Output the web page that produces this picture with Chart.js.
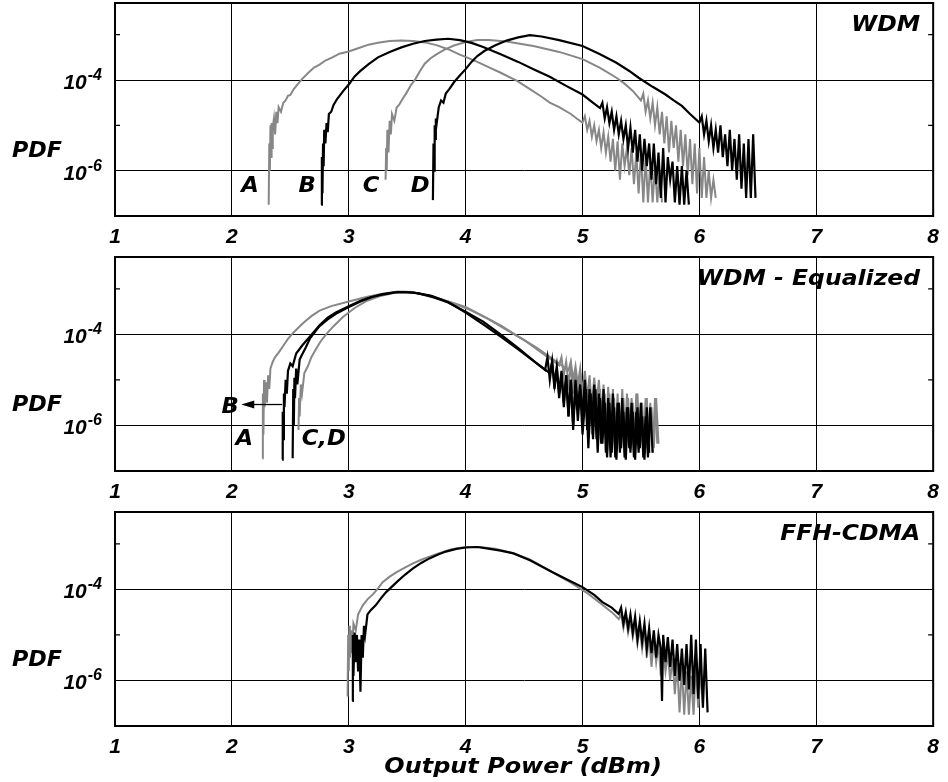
<!DOCTYPE html>
<html>
<head>
<meta charset="utf-8">
<script src="https://cdn.jsdelivr.net/npm/chart.js@4.4.1/dist/chart.umd.min.js"></script>
<style>
  html, body { margin: 0; padding: 0; background: #fff; }
  #wrap { position: relative; width: 948px; height: 782px; overflow: hidden; }
  #wrap canvas { position: absolute; left: 0; }
</style>
</head>
<body>
<div id="wrap">
  <canvas id="wdm" width="948" height="250" style="top:0px"></canvas>
  <canvas id="wdmEq" width="948" height="255" style="top:253px"></canvas>
  <canvas id="ffh" width="948" height="274" style="top:508px"></canvas>
</div>
<script>
// axis ticks
const xTickValues = [1, 2, 3, 4, 5, 6, 7, 8];
const yLabelled = [-4, -6];     // decades with label + grid line
const yMinor = [-3, -5];        // decades with short inner tick only

// curves: [output power (dBm), log10(PDF)]
// WDM
const wdmA = [[2.315,-6.75],[2.32,-5.4],[2.325,-6.0],[2.33,-5.0],[2.335,-5.7],[2.34,-4.95],[2.345,-5.5],[2.35,-5.05],[2.36,-4.85],[2.37,-5.2],[2.38,-4.7],[2.39,-4.95],[2.40,-4.6],[2.42,-4.7],[2.44,-4.5],[2.46,-4.45],[2.48,-4.35],[2.50,-4.33],[2.53,-4.2],[2.56,-4.1],[2.60,-3.98],[2.65,-3.85],[2.70,-3.73],[2.75,-3.66],[2.80,-3.57],[2.86,-3.5],[2.92,-3.42],[3.00,-3.37],[3.08,-3.3],[3.17,-3.22],[3.25,-3.18],[3.35,-3.14],[3.45,-3.13],[3.55,-3.14],[3.65,-3.17],[3.75,-3.23],[3.85,-3.32],[3.95,-3.44],[4.02,-3.51],[4.1,-3.6],[4.2,-3.72],[4.3,-3.84],[4.44,-4.02],[4.55,-4.2],[4.65,-4.37],[4.72,-4.5],[4.8,-4.6],[4.9,-4.75],[4.95,-4.85],[5.0,-4.94],
  [5.02,-4.8],[5.04,-5.1],[5.06,-4.9],[5.08,-5.25],[5.10,-5.0],[5.12,-5.35],[5.14,-5.1],[5.16,-5.5],[5.18,-5.15],[5.20,-5.6],[5.22,-5.25],[5.24,-5.8],[5.26,-5.3],[5.28,-6.0],[5.30,-5.35],[5.32,-6.2],[5.34,-5.4],[5.36,-5.9],[5.38,-5.5],[5.40,-6.1],[5.42,-5.5],[5.44,-6.3],[5.46,-5.6],[5.48,-6.5],[5.50,-5.6],[5.52,-6.7],[5.54,-5.7],[5.56,-6.7],[5.58,-5.8],[5.60,-6.7],[5.62,-5.9],[5.64,-6.7],[5.66,-6.0],[5.68,-6.7]];
const wdmB = [[2.765,-6.75],[2.77,-5.7],[2.775,-6.5],[2.78,-5.4],[2.785,-5.9],[2.79,-5.1],[2.80,-5.4],[2.81,-4.95],[2.82,-5.15],[2.83,-4.75],[2.85,-4.7],[2.87,-4.55],[2.90,-4.42],[2.95,-4.25],[3.00,-4.1],[3.05,-3.92],[3.10,-3.8],[3.17,-3.65],[3.25,-3.5],[3.35,-3.38],[3.45,-3.28],[3.55,-3.2],[3.65,-3.14],[3.75,-3.11],[3.85,-3.09],[3.95,-3.12],[4.05,-3.18],[4.15,-3.27],[4.30,-3.43],[4.45,-3.6],[4.58,-3.76],[4.72,-3.93],[4.86,-4.13],[5.0,-4.32],[5.08,-4.48],[5.15,-4.62],
  [5.17,-4.5],[5.19,-4.85],[5.21,-4.6],[5.23,-4.95],[5.25,-4.7],[5.27,-5.1],[5.29,-4.8],[5.31,-5.2],[5.33,-4.9],[5.35,-5.3],[5.37,-5.0],[5.39,-5.5],[5.41,-5.05],[5.43,-5.6],[5.45,-5.1],[5.47,-5.8],[5.49,-5.2],[5.51,-6.0],[5.53,-5.3],[5.55,-5.9],[5.57,-5.4],[5.59,-6.2],[5.61,-5.4],[5.63,-6.3],[5.65,-5.6],[5.67,-6.6],[5.69,-5.5],[5.71,-6.7],[5.73,-5.7],[5.75,-6.2],[5.77,-5.8],[5.79,-6.7],[5.81,-5.9],[5.83,-6.75],[5.85,-5.9],[5.87,-6.75],[5.89,-6.0],[5.91,-6.75]];
const wdmC = [[3.315,-6.2],[3.32,-5.5],[3.325,-6.0],[3.33,-5.1],[3.34,-5.6],[3.35,-4.9],[3.36,-5.2],[3.37,-4.75],[3.39,-4.9],[3.41,-4.6],[3.43,-4.55],[3.46,-4.42],[3.49,-4.3],[3.53,-4.12],[3.57,-3.98],[3.61,-3.8],[3.65,-3.64],[3.70,-3.52],[3.76,-3.42],[3.82,-3.33],[3.90,-3.24],[4.0,-3.16],[4.1,-3.12],[4.2,-3.12],[4.35,-3.15],[4.58,-3.25],[4.8,-3.38],[5.0,-3.54],[5.15,-3.73],[5.29,-3.95],[5.36,-4.08],[5.43,-4.24],[5.50,-4.45],
  [5.52,-4.3],[5.54,-4.7],[5.56,-4.45],[5.58,-4.85],[5.60,-4.5],[5.62,-5.0],[5.64,-4.6],[5.66,-5.2],[5.68,-4.7],[5.70,-5.4],[5.72,-4.8],[5.74,-5.6],[5.76,-4.9],[5.78,-5.5],[5.80,-5.0],[5.82,-5.8],[5.84,-5.1],[5.86,-5.9],[5.88,-5.2],[5.90,-6.1],[5.92,-5.3],[5.94,-6.3],[5.96,-5.4],[5.98,-6.5],[6.00,-5.5],[6.02,-6.6],[6.04,-5.7],[6.06,-6.6],[6.08,-6.0],[6.10,-6.6],[6.12,-6.2],[6.14,-6.6]];
const wdmD = [[3.72,-6.65],[3.725,-5.4],[3.73,-6.0],[3.735,-5.0],[3.74,-5.3],[3.745,-4.85],[3.75,-5.0],[3.77,-4.6],[3.79,-4.45],[3.81,-4.5],[3.83,-4.3],[3.86,-4.2],[3.90,-4.05],[3.95,-3.9],[4.0,-3.76],[4.05,-3.6],[4.1,-3.47],[4.16,-3.36],[4.25,-3.24],[4.35,-3.13],[4.45,-3.06],[4.55,-3.01],[4.65,-3.04],[4.8,-3.12],[5.0,-3.25],[5.15,-3.43],[5.29,-3.62],[5.4,-3.8],[5.48,-3.95],[5.6,-4.15],[5.71,-4.32],[5.78,-4.45],[5.85,-4.57],[5.92,-4.75],[6.0,-4.94],
  [6.02,-4.8],[6.04,-5.2],[6.06,-4.9],[6.08,-5.35],[6.10,-5.0],[6.12,-5.5],[6.14,-5.1],[6.16,-5.6],[6.18,-5.0],[6.20,-5.7],[6.22,-5.2],[6.24,-5.9],[6.26,-5.1],[6.28,-6.0],[6.30,-5.3],[6.32,-6.2],[6.34,-5.2],[6.36,-6.4],[6.38,-5.4],[6.40,-6.6],[6.42,-5.3],[6.44,-6.6],[6.46,-5.2],[6.48,-6.6]];

// WDM - Equalized
const eqA = [[2.26,-6.72],[2.265,-5.3],[2.27,-6.2],[2.275,-5.0],[2.28,-5.6],[2.29,-5.05],[2.30,-5.5],[2.31,-4.9],[2.32,-5.2],[2.33,-4.75],[2.35,-4.6],[2.37,-4.5],[2.40,-4.4],[2.44,-4.25],[2.48,-4.1],[2.52,-3.98],[2.57,-3.85],[2.62,-3.73],[2.68,-3.6],[2.75,-3.48],[2.85,-3.38],[3.0,-3.28],[3.15,-3.18],[3.3,-3.1],[3.42,-3.06],[3.55,-3.07],[3.72,-3.19],[3.85,-3.28],[4.0,-3.4],[4.15,-3.6],[4.31,-3.82],[4.45,-4.05],[4.6,-4.28],[4.75,-4.55],[4.88,-4.79],
  [4.90,-4.6],[4.92,-5.0],[4.94,-4.7],[4.96,-5.1],[4.98,-4.75],[5.00,-5.3],[5.02,-4.8],[5.04,-5.4],[5.06,-4.9],[5.08,-5.6],[5.10,-4.95],[5.12,-5.5],[5.14,-5.0],[5.16,-5.8],[5.18,-5.1],[5.20,-6.1],[5.22,-5.15],[5.24,-6.4],[5.26,-5.2],[5.28,-6.6],[5.30,-5.3],[5.32,-6.5],[5.34,-5.2],[5.36,-6.6],[5.38,-5.3],[5.40,-6.2],[5.42,-5.4],[5.44,-6.6],[5.46,-5.3],[5.48,-6.4],[5.50,-5.5],[5.52,-6.6],[5.54,-5.4],[5.56,-6.5],[5.58,-5.5],[5.60,-6.6],[5.62,-5.4],[5.64,-6.4]];
const eqB = [[2.43,-6.75],[2.435,-5.7],[2.44,-6.3],[2.445,-5.3],[2.45,-5.6],[2.46,-5.0],[2.47,-5.3],[2.48,-4.8],[2.50,-4.64],[2.52,-4.7],[2.55,-4.42],[2.60,-4.25],[2.64,-4.13],[2.70,-3.95],[2.75,-3.8],[2.82,-3.63],[2.89,-3.52],[3.0,-3.38],[3.1,-3.26],[3.18,-3.19],[3.28,-3.12],[3.38,-3.08],[3.48,-3.07],[3.6,-3.1],[3.72,-3.18],[3.85,-3.3],[4.0,-3.5],[4.15,-3.72],[4.31,-4.02],[4.45,-4.3],[4.6,-4.62],[4.68,-4.78],
  [4.70,-4.5],[4.72,-5.0],[4.74,-4.6],[4.76,-5.2],[4.78,-4.75],[4.80,-5.4],[4.82,-4.85],[4.84,-5.6],[4.86,-4.9],[4.88,-5.8],[4.90,-5.0],[4.92,-6.0],[4.94,-5.0],[4.96,-5.6],[4.98,-5.1],[5.00,-5.8],[5.02,-5.0],[5.04,-6.1],[5.06,-5.2],[5.08,-6.0],[5.10,-5.1],[5.12,-6.3],[5.14,-5.3],[5.16,-6.4],[5.18,-5.2],[5.20,-6.6],[5.22,-5.4],[5.24,-6.7],[5.26,-5.3],[5.28,-6.7],[5.30,-5.5],[5.32,-6.6],[5.34,-5.4],[5.36,-6.7],[5.38,-5.6],[5.40,-6.5],[5.42,-5.5],[5.44,-6.7],[5.46,-5.7],[5.48,-6.6],[5.50,-5.5],[5.52,-6.7],[5.54,-5.8],[5.56,-6.7],[5.58,-5.6],[5.60,-6.6]];
const eqC = [[2.57,-6.1],[2.575,-5.4],[2.58,-5.8],[2.59,-5.1],[2.60,-5.3],[2.62,-4.85],[2.65,-4.7],[2.68,-4.5],[2.72,-4.32],[2.76,-4.15],[2.81,-3.99],[2.87,-3.82],[2.95,-3.62],[3.05,-3.42],[3.15,-3.27],[3.28,-3.15],[3.4,-3.08],[3.55,-3.08],[3.72,-3.17],[3.9,-3.32],[4.05,-3.48],[4.2,-3.67],[4.35,-3.9],[4.5,-4.12],[4.65,-4.4],[4.8,-4.68],
  [4.82,-4.5],[4.84,-4.9],[4.86,-4.6],[4.88,-5.1],[4.90,-4.7],[4.92,-5.3],[4.94,-4.8],[4.96,-5.5],[4.98,-4.85],[5.00,-5.6],[5.02,-4.9],[5.04,-5.9],[5.06,-5.0],[5.08,-6.2],[5.10,-5.1],[5.13,-6.5],[5.15,-5.2],[5.17,-6.3],[5.19,-5.3],[5.21,-6.6],[5.23,-5.3],[5.25,-6.4],[5.27,-5.4],[5.29,-6.6],[5.31,-5.5],[5.33,-6.3],[5.35,-5.4],[5.37,-6.6],[5.39,-5.4],[5.41,-6.5],[5.43,-5.5],[5.45,-6.6],[5.47,-5.3],[5.49,-6.4],[5.51,-5.5],[5.53,-6.6],[5.55,-5.4],[5.57,-6.6],[5.59,-5.6],[5.61,-6.5],[5.63,-5.4],[5.65,-6.4]];
const eqD = [[2.52,-6.72],[2.525,-5.2],[2.53,-6.0],[2.535,-4.95],[2.54,-5.4],[2.55,-4.75],[2.56,-5.1],[2.58,-4.55],[2.60,-4.45],[2.63,-4.3],[2.67,-4.08],[2.71,-3.95],[2.75,-3.82],[2.82,-3.67],[2.89,-3.55],[3.0,-3.4],[3.1,-3.28],[3.2,-3.18],[3.3,-3.12],[3.42,-3.07],[3.55,-3.08],[3.7,-3.15],[3.85,-3.29],[4.0,-3.52],[4.15,-3.78],[4.3,-4.05],[4.45,-4.33],[4.6,-4.62],[4.72,-4.85],
  [4.74,-4.6],[4.76,-5.1],[4.78,-4.7],[4.80,-5.3],[4.82,-4.8],[4.84,-5.5],[4.86,-4.9],[4.88,-5.8],[4.90,-5.0],[4.92,-6.1],[4.94,-5.1],[4.96,-5.9],[4.98,-5.2],[5.00,-6.2],[5.03,-5.2],[5.05,-6.5],[5.07,-5.3],[5.09,-6.3],[5.11,-5.2],[5.13,-6.6],[5.15,-5.4],[5.17,-6.4],[5.19,-5.5],[5.21,-6.7],[5.23,-5.5],[5.25,-6.6],[5.27,-5.6],[5.29,-6.75],[5.31,-5.5],[5.33,-6.5],[5.35,-5.7],[5.37,-6.75],[5.39,-5.6],[5.41,-6.6],[5.43,-5.7],[5.45,-6.75],[5.47,-5.6],[5.49,-6.5],[5.51,-5.8],[5.53,-6.75],[5.55,-5.6],[5.57,-6.6]];

// FFH-CDMA
const ffhGray = [[2.99,-6.35],[2.995,-5.0],[3.0,-5.8],[3.005,-4.8],[3.01,-5.5],[3.02,-4.9],[3.03,-5.4],[3.04,-4.75],[3.06,-4.9],[3.08,-4.55],[3.10,-4.45],[3.12,-4.35],[3.16,-4.22],[3.21,-4.1],[3.25,-3.98],[3.29,-3.84],[3.35,-3.72],[3.41,-3.62],[3.48,-3.52],[3.55,-3.43],[3.62,-3.35],[3.69,-3.28],[3.78,-3.2],[3.88,-3.12],[4.0,-3.07],[4.12,-3.07],[4.25,-3.11],[4.4,-3.2],[4.55,-3.34],[4.74,-3.62],[4.9,-3.85],[5.05,-4.1],[5.15,-4.3],[5.25,-4.5],[5.31,-4.65],
  [5.33,-4.55],[5.35,-4.85],[5.37,-4.6],[5.39,-4.95],[5.41,-4.7],[5.43,-5.05],[5.45,-4.75],[5.47,-5.2],[5.49,-4.85],[5.51,-5.3],[5.53,-4.9],[5.55,-5.5],[5.57,-5.0],[5.59,-5.7],[5.61,-5.1],[5.63,-5.6],[5.65,-5.2],[5.67,-5.9],[5.69,-5.3],[5.71,-5.8],[5.73,-5.4],[5.75,-6.0],[5.77,-5.5],[5.79,-6.3],[5.81,-5.6],[5.83,-6.7],[5.85,-5.7],[5.87,-6.75],[5.89,-5.8],[5.91,-6.75],[5.93,-5.9],[5.95,-6.75],[5.97,-5.7],[5.99,-6.6],[6.01,-5.8],[6.03,-6.5]];
const ffhBlack = [[3.03,-6.45],[3.035,-5.0],[3.04,-5.9],[3.05,-4.95],[3.06,-5.6],[3.07,-5.0],[3.08,-5.8],[3.09,-5.1],[3.10,-6.25],[3.11,-5.0],[3.12,-5.5],[3.13,-4.8],[3.14,-5.0],[3.16,-4.55],[3.19,-4.45],[3.23,-4.35],[3.28,-4.18],[3.32,-4.06],[3.41,-3.84],[3.48,-3.68],[3.55,-3.54],[3.62,-3.42],[3.69,-3.32],[3.76,-3.24],[3.83,-3.17],[3.92,-3.11],[4.0,-3.08],[4.1,-3.07],[4.18,-3.1],[4.3,-3.15],[4.41,-3.21],[4.55,-3.36],[4.74,-3.62],[4.88,-3.8],[5.0,-3.95],[5.1,-4.12],[5.17,-4.28],[5.25,-4.4],[5.31,-4.54],
  [5.33,-4.4],[5.35,-4.75],[5.37,-4.5],[5.39,-4.85],[5.41,-4.55],[5.43,-4.95],[5.45,-4.6],[5.47,-5.1],[5.49,-4.7],[5.51,-5.15],[5.53,-4.75],[5.55,-5.3],[5.57,-4.85],[5.59,-5.4],[5.61,-4.9],[5.63,-5.5],[5.65,-5.0],[5.67,-5.3],[5.68,-6.45],[5.69,-5.0],[5.71,-5.6],[5.73,-5.05],[5.75,-5.7],[5.77,-5.1],[5.79,-5.9],[5.81,-5.2],[5.83,-6.0],[5.85,-5.3],[5.87,-6.1],[5.89,-5.2],[5.91,-6.2],[5.93,-5.0],[5.95,-6.3],[5.97,-5.1],[5.99,-6.4],[6.01,-5.2],[6.03,-6.6],[6.05,-5.3],[6.07,-6.7]];

const GRAY = '#878787';
const BLACK = '#000000';
const TEXT_FONT = '"DejaVu Sans", sans-serif';
const NUM_FONT = '"Liberation Sans", Arial, sans-serif';

const toPts = arr => arr.map(([x, e]) => ({ x: x, y: Math.pow(10, e) }));

function stretchText(ctx, text, x, y, align, sx) {
    ctx.save();
    ctx.translate(x, y);
    ctx.scale(sx, 1);
    ctx.textAlign = align;
    ctx.fillText(text, 0, 0);
    ctx.restore();
}

// frame, minor ticks, decade labels and the in-plot annotations
const panelDeco = {
    id: 'panelDeco',
    afterDraw(chart, args, opts) {
        const { ctx, chartArea: a } = chart;
        const xs = chart.scales.x, ys = chart.scales.y;
        ctx.save();
        ctx.strokeStyle = '#000';
        ctx.lineWidth = 2;
        ctx.strokeRect(a.left, a.top, a.right - a.left, a.bottom - a.top);

        ctx.lineWidth = 1.2;
        ctx.beginPath();
        yMinor.forEach(e => {
            const py = ys.getPixelForValue(Math.pow(10, e));
            ctx.moveTo(a.left, py); ctx.lineTo(a.left + 5, py);
            ctx.moveTo(a.right, py); ctx.lineTo(a.right - 5, py);
        });
        ctx.stroke();

        ctx.fillStyle = '#000';
        ctx.textBaseline = 'alphabetic';
        // 10^-4, 10^-6
        yLabelled.forEach(e => {
            const py = ys.getPixelForValue(Math.pow(10, e));
            ctx.textAlign = 'right';
            ctx.font = 'italic bold 16px ' + NUM_FONT;
            const exp = String(e);
            const we = ctx.measureText(exp).width;
            ctx.fillText(exp, a.left - 13, py);
            ctx.font = 'italic bold 21px ' + NUM_FONT;
            ctx.fillText('10', a.left - 14 - we, py + 9);
        });

        ctx.font = 'italic bold 21px ' + TEXT_FONT;
        stretchText(ctx, 'PDF', a.left - 103, a.top + 154, 'left', 1.06);
        stretchText(ctx, opts.title, a.right - 13, a.top + 28, 'right', 1.12);
        (opts.letters || []).forEach(([t, lx, le]) => {
            stretchText(ctx, t, xs.getPixelForValue(lx), ys.getPixelForValue(Math.pow(10, le)), 'center', 1.08);
        });

        if (opts.arrow) {
            const [x0, x1, e] = opts.arrow;
            const py = ys.getPixelForValue(Math.pow(10, e));
            const p0 = xs.getPixelForValue(x0), p1 = xs.getPixelForValue(x1);
            ctx.lineWidth = 1.3;
            ctx.beginPath(); ctx.moveTo(p0, py); ctx.lineTo(p1 + 10, py); ctx.stroke();
            ctx.beginPath(); ctx.moveTo(p1, py); ctx.lineTo(p1 + 13, py - 4); ctx.lineTo(p1 + 13, py + 4); ctx.closePath(); ctx.fill();
        }

        if (opts.xTitle) {
            stretchText(ctx, opts.xTitle, (a.left + a.right) / 2 - 1, a.bottom + 47, 'center', 1.14);
        }
        ctx.restore();
    }
};

function makePanel(id, curves, deco, padTop, plotH) {
    const canvas = document.getElementById(id);
    const H = canvas.height;
    return new Chart(canvas, {
        type: 'line',
        data: {
            datasets: curves.map(([pts, color]) => ({
                data: toPts(pts),
                borderColor: color,
                borderWidth: color === BLACK ? 2.2 : 2,
                borderJoinStyle: 'miter',
                pointRadius: 0,
                tension: 0,
                fill: false,
                order: color === BLACK ? 0 : 1
            }))
        },
        options: {
            responsive: false,
            animation: false,
            events: [],
            layout: { padding: { top: padTop, right: 10, left: 0, bottom: 0 } },
            plugins: { legend: { display: false }, tooltip: { enabled: false }, panelDeco: deco },
            scales: {
                x: {
                    type: 'linear', min: 1, max: 8,
                    afterBuildTicks: s => { s.ticks = xTickValues.map(v => ({ value: v })); },
                    afterFit: s => { s.height = H - padTop - plotH; },
                    ticks: { padding: 9, color: '#000', maxRotation: 0, autoSkip: false,
                             font: { family: NUM_FONT, size: 21, style: 'italic', weight: 'bold' } },
                    grid: { color: '#000', lineWidth: 1, drawTicks: false },
                    border: { color: '#000', width: 2 }
                },
                y: {
                    type: 'logarithmic', min: 1e-7, max: 5e-3,
                    afterBuildTicks: s => { s.ticks = yLabelled.concat(yMinor).map(e => ({ value: Math.pow(10, e) })); },
                    afterFit: s => { s.width = 115; },
                    ticks: { display: false },
                    grid: {
                        color: c => yLabelled.includes(Math.round(Math.log10(c.tick.value))) ? '#000' : 'rgba(0,0,0,0)',
                        lineWidth: 1, drawTicks: false
                    },
                    border: { color: '#000', width: 2 }
                }
            }
        },
        plugins: [panelDeco]
    });
}

makePanel('wdm', [[wdmA, GRAY], [wdmB, BLACK], [wdmC, GRAY], [wdmD, BLACK]], {
    title: 'WDM',
    letters: [['A', 2.156, -6.46], ['B', 2.645, -6.46], ['C', 3.19, -6.46], ['D', 3.61, -6.46]]
}, 3, 213);

makePanel('wdmEq', [[eqA, GRAY], [eqB, BLACK], [eqC, GRAY], [eqD, BLACK]], {
    title: 'WDM - Equalized',
    letters: [['B', 1.986, -5.73], ['A', 2.105, -6.43], ['C,D', 2.786, -6.43]],
    arrow: [2.43, 2.08, -5.54]
}, 4, 214);

makePanel('ffh', [[ffhGray, GRAY], [ffhBlack, BLACK]], {
    title: 'FFH-CDMA',
    xTitle: 'Output Power (dBm)'
}, 4, 214);
</script>
</body>
</html>
